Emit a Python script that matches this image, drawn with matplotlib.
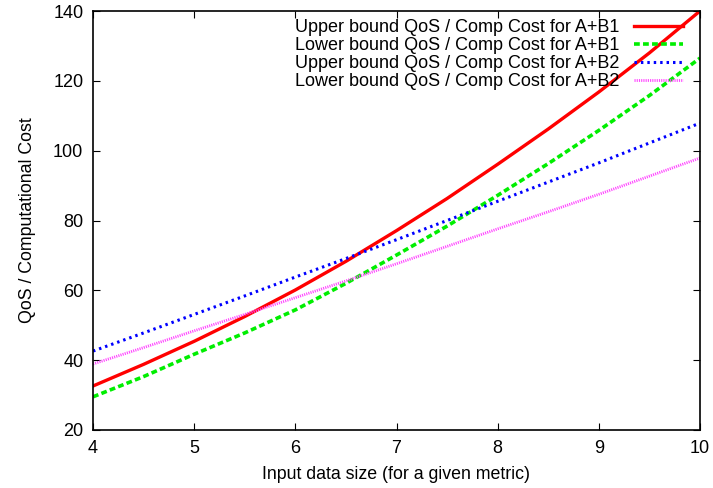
import numpy as np
import matplotlib
matplotlib.use("Agg")
import matplotlib.pyplot as plt

plt.rcParams['font.family'] = ['Liberation Sans', 'DejaVu Sans']

# values
x = [4, 4.5, 5, 5.5, 6, 6.5, 7, 7.5, 8, 8.5, 9, 9.5, 10]
upper_b1 = [32.6, 38.8, 45.4, 52.5, 60.1, 68.3, 77.1, 86.3, 96.1, 106.2, 116.8, 128.0, 140.0]
lower_b1 = [29.5, 35.3, 41.7, 47.8, 54.4, 62.0, 70.1, 78.4, 87.2, 96.3, 105.8, 115.8, 126.5]
upper_b2 = [42.6, 47.8, 53.1, 58.4, 63.8, 69.1, 74.5, 80.0, 85.5, 91.0, 96.5, 102.2, 107.9]
lower_b2 = [38.9, 43.6, 48.4, 53.1, 57.9, 62.7, 67.6, 72.6, 77.6, 82.5, 87.5, 92.7, 97.9]

labels = ["Upper bound QoS / Comp Cost for A+B1",
          "Lower bound QoS / Comp Cost for A+B1",
          "Upper bound QoS / Comp Cost for A+B2",
          "Lower bound QoS / Comp Cost for A+B2"]

fig = plt.figure(figsize=(7.13, 4.88), dpi=100)
ax = fig.add_axes([93 / 713, 58 / 488, 607 / 713, 419 / 488])

ax.plot(x, upper_b1, color='#ff0000', lw=2.4, ls='-', label=labels[0])
ax.plot(x, lower_b1, color='#00ee00', lw=2.6, ls=(0, (1.6, 0.9)), label=labels[1])
ax.plot(x, upper_b2, color='#0000ff', lw=2.2, ls=(0, (0.8, 1.3)), label=labels[2])
ax.plot(x, lower_b2, color='#ff44ff', lw=2.0, ls=(0, (0.4, 0.4)), label=labels[3])

ax.set_xlim(4, 10)
ax.set_ylim(20, 140)
ax.set_xticks(range(4, 11))
ax.set_yticks(range(20, 141, 20))
ax.tick_params(direction='in', top=True, right=True, length=5, width=0.8,
               labelsize=13, pad=7)
for s in ax.spines.values():
    s.set_linewidth(1.2)

ax.set_xlabel("Input data size (for a given metric)", fontsize=12.8, labelpad=7)
ax.set_ylabel("QoS / Computational Cost", fontsize=12.8, labelpad=12)

ax.legend(loc='upper right', frameon=False, markerfirst=False, fontsize=13,
          handlelength=2.7, labelspacing=0.05, handletextpad=0.8,
          borderaxespad=0.05, bbox_to_anchor=(0.985, 1.0))

fig.savefig("out.png", dpi=100)
